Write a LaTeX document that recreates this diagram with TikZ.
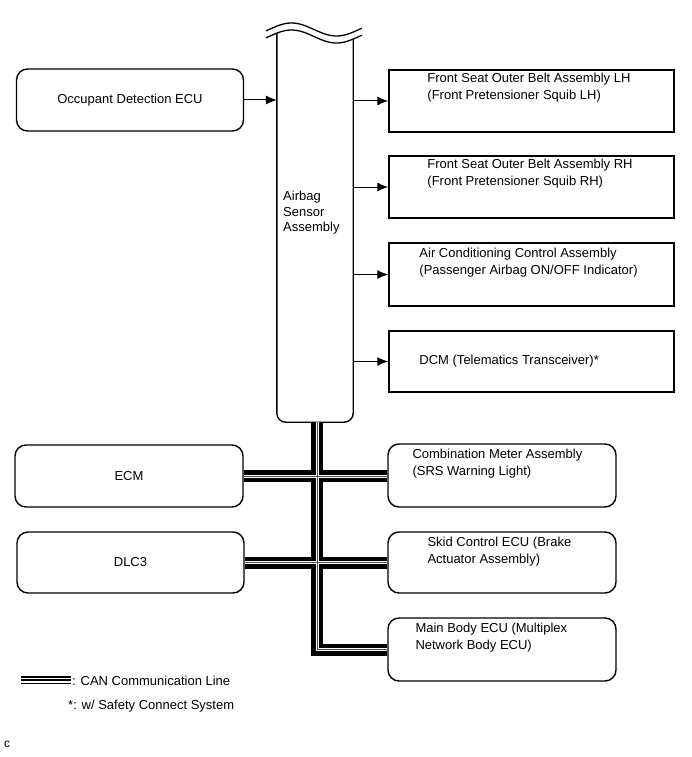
\documentclass[tikz,border=0pt]{standalone}
\usepackage{fontspec}
\setmainfont{Liberation Sans}
\usetikzlibrary{arrows.meta,calc}

\tikzset{
	ecubox/.style={draw, line width=1.4pt, rounded corners=11pt, inner sep=0pt, minimum width=227pt, minimum height=62pt},
	sqbox/.style={draw, line width=1.5pt, inner sep=0pt, minimum width=285pt, minimum height=62pt},
	boxtext/.style={anchor=north west, inner sep=0pt, align=left},
	sigarrow/.style={line width=1pt, -{Latex[length=11pt,width=9pt]}},
	canline/.style={preaction={draw, line width=12pt, black}, preaction={draw, line width=3pt, white}, draw, line width=1pt, black!70},
	canlegend/.style={preaction={draw, line width=8pt, black}, preaction={draw, line width=5pt, white}, draw, line width=1.8pt, black}
}

\begin{document}
\begin{tikzpicture}[x=1pt, y=-1pt, font=\fontsize{13}{17}\selectfont]
			%%%%% START %%%%%
			
			\useasboundingbox (0, 0) rectangle (691, 757);
			
			% airbag sensor column
			\node[inner sep=0pt, minimum width=76pt, minimum height=389pt] (sensor) at (315, 227.5) {};
			\draw[line width=1.3pt] plot[domain=266:362, samples=60] (\x, {29.5-6.5*sin((\x-269)*4)});
			\draw[line width=1.3pt] plot[domain=266:362, samples=60] (\x, {36.5-6.5*sin((\x-269)*4)});
			\draw[line width=1.4pt, rounded corners=9pt] (sensor.north west) -- (sensor.south west) -- (sensor.south east) -- ([shift={(0, 6)}]sensor.north east);
			\node[boxtext, font=\fontsize{13}{15.5}\selectfont] (sensortext) at (283, 191) {Airbag\\Sensor\\Assembly};
			
			% left side
			\node[ecubox] (occdet) at (130, 100) {Occupant Detection ECU};
			\node[ecubox, minimum width=228pt] (ecm) at (129, 476) {ECM};
			\node[ecubox, minimum height=61pt] (dlc) at (130.5, 562.5) {DLC3};
			
			% right side, square boxes
			\node[sqbox] (frontlh) at (531.5, 101) {};
			\node[sqbox] (frontrh) at (531.5, 187) {};
			\node[sqbox, minimum height=63pt] (accontrol) at (531.5, 274.5) {};
			\node[sqbox, minimum height=61pt] (dcm) at (531.5, 361.5) {};
			
			\node[boxtext] (frontlhtext) at ([shift={(39, 4)}]frontlh.north west) {Front Seat Outer Belt Assembly LH\\(Front Pretensioner Squib LH)};
			\node[boxtext] (frontrhtext) at ([shift={(39, 4)}]frontrh.north west) {Front Seat Outer Belt Assembly RH\\(Front Pretensioner Squib RH)};
			\node[boxtext] (actext) at ([shift={(31, 6)}]accontrol.north west) {Air Conditioning Control Assembly\\(Passenger Airbag ON/OFF Indicator)};
			\node[anchor=west, inner sep=0pt] (dcmtext) at ($(dcm.west)+(31, 0)$) {DCM (Telematics Transceiver)*};
			
			% right side, rounded boxes
			\node[ecubox, minimum width=228pt, minimum height=63pt] (combmeter) at (502, 475.5) {};
			\node[ecubox, minimum width=228pt, minimum height=61pt] (skidecu) at (502, 562.5) {};
			\node[ecubox, minimum width=228pt, minimum height=63pt] (mainbody) at (502, 649.5) {};
			
			\node[boxtext] (combtext) at ([shift={(25, 6)}]combmeter.north west) {Combination Meter Assembly\\(SRS Warning Light)};
			\node[boxtext] (skidtext) at ([shift={(40, 6)}]skidecu.north west) {Skid Control ECU (Brake\\Actuator Assembly)};
			\node[boxtext] (mainbodytext) at ([shift={(28, 6)}]mainbody.north west) {Main Body ECU (Multiplex\\Network Body ECU)};
			
			% signal arrows
			\draw[sigarrow] (occdet.east) -- (occdet.east -| sensor.west);
			\draw[sigarrow] (sensor.east |- frontlh.west) -- (frontlh.west);
			\draw[sigarrow] (sensor.east |- frontrh.west) -- (frontrh.west);
			\draw[sigarrow] (sensor.east |- accontrol.west) -- (accontrol.west);
			\draw[sigarrow] (sensor.east |- dcm.west) -- (dcm.west);
			
			% CAN bus
			\draw[canline] ([xshift=2pt]sensor.south) -- ([xshift=2pt]sensor.south |- mainbody.west) -- (mainbody.west)
				(ecm.east) -- (ecm.east -| combmeter.west)
				(dlc.east) -- (dlc.east -| skidecu.west);
			
			% legend
			\coordinate (legA) at (21, 680);
			\coordinate (legB) at (71, 680);
			\draw[canlegend] (legA) -- (legB);
			\node[anchor=west, inner sep=0pt] (legtext) at (72, 681) {: CAN Communication Line};
			\node[anchor=west, inner sep=0pt] (notetext) at (68, 706) {*: w/ Safety Connect System};
			\node[anchor=west, inner sep=0pt, font=\fontsize{12}{14}\selectfont] (ctext) at (4, 744) {c};
			
			%%%%% END %%%%%
\end{tikzpicture}
\end{document}
